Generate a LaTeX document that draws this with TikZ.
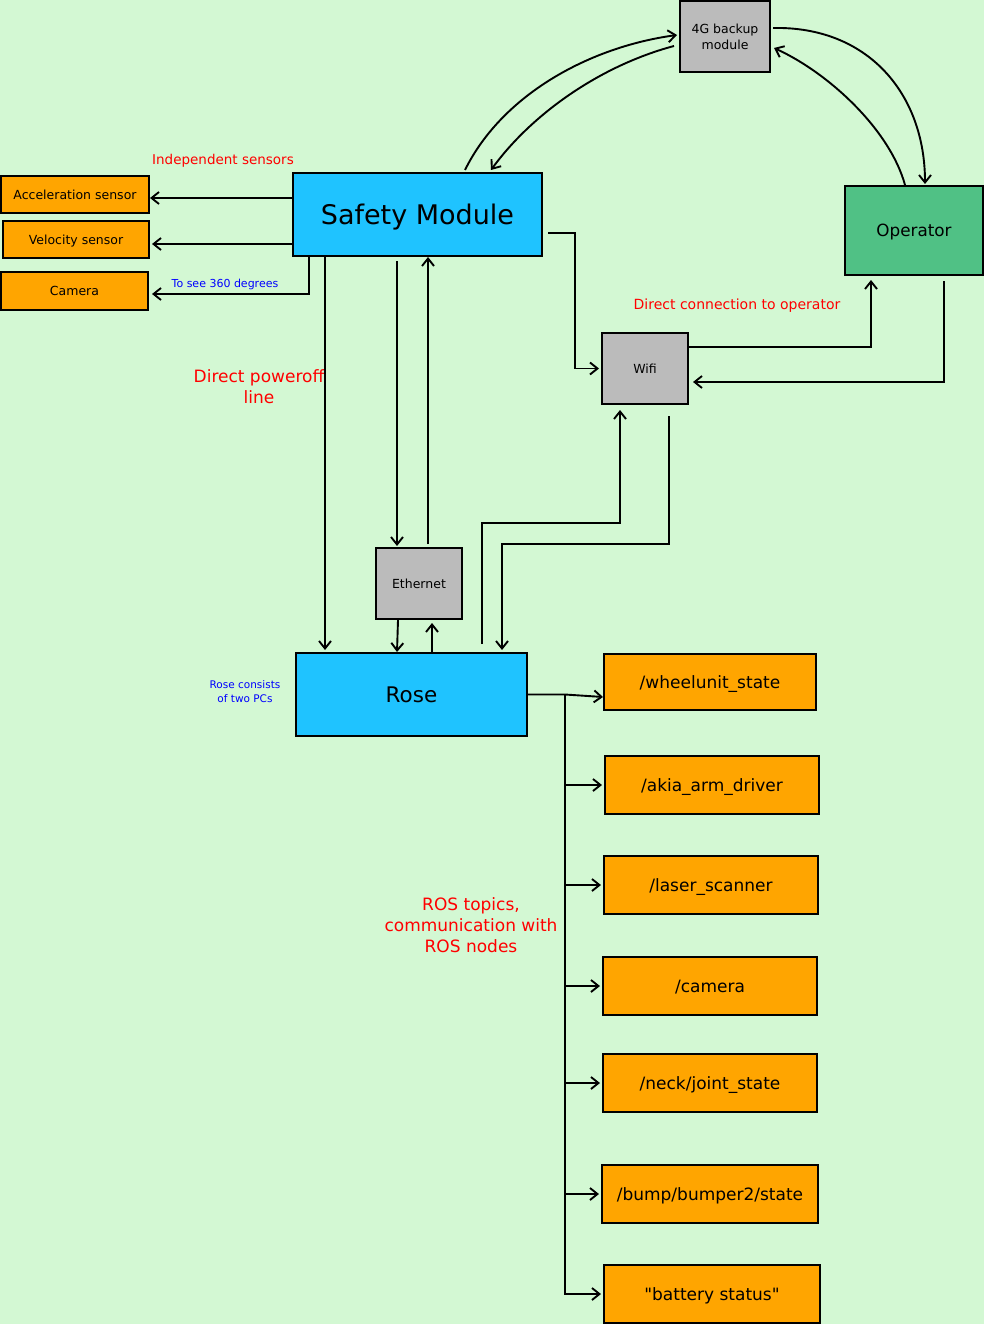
\documentclass[tikz,border=0pt]{standalone}
\usepackage{fontspec}
\setmainfont{DejaVu Sans}[Ligatures=TeXOff]
\usetikzlibrary{arrows.meta}
\definecolor{bggreen}{HTML}{D3F8D3}
\definecolor{skyblue}{HTML}{1FC3FF}
\definecolor{boxorange}{HTML}{FFA500}
\definecolor{boxgray}{HTML}{BBBBBB}
\definecolor{opgreen}{HTML}{50C185}
\begin{document}
\begin{tikzpicture}[x=1pt, y=-1pt, >={Straight Barb[length=7.5pt,width=12pt]},
  box/.style={draw=black, line width=2pt, inner sep=0pt, align=center, text=black, text depth=0pt},
  mainbox/.style={box, fill=skyblue},
  sensor/.style={box, fill=boxorange, minimum height=37pt, font=\fontsize{12.5}{15}\selectfont},
  gear/.style={box, fill=boxgray, minimum width=86pt, minimum height=71pt, font=\fontsize{12.5}{16}\selectfont},
  topic/.style={box, fill=boxorange, minimum height=58pt, font=\fontsize{17}{20}\selectfont},
  rednote/.style={text=red, align=center, text depth=0pt},
  bluenote/.style={text=blue, align=center, text depth=0pt},
  link/.style={->, line width=1.9pt}]
\useasboundingbox (0,0) rectangle (984,1324);
\fill[bggreen] (0,0) rectangle (984,1324);
\node[mainbox, minimum width=249pt, minimum height=83pt, font=\fontsize{27}{32}\selectfont] (safety) at (417.5,214.5) {Safety Module};
\node[mainbox, minimum width=231pt, minimum height=83pt, font=\fontsize{21.5}{26}\selectfont] (rose) at (411.5,694.5) {Rose};
\node[box, fill=opgreen, minimum width=138pt, minimum height=89pt, font=\fontsize{16.8}{20}\selectfont] (op) at (914,230.5) {Operator};
\node[gear, minimum width=90pt] (g4) at (725,36.5) {4G backup\\module};
\node[gear] (wifi) at (645,368.5) {Wifi};
\node[gear] (eth) at (419,583.5) {Ethernet};
\node[sensor, minimum width=148pt] (acc) at (75,194.5) {Acceleration sensor};
\node[sensor, minimum width=146pt] (vel) at (76,239.5) {Velocity sensor};
\node[sensor, minimum width=147pt, minimum height=38pt] (cam) at (74.5,291) {Camera};
\node[topic, minimum width=212pt, minimum height=56pt] (t1) at (710,682) {/wheelunit\_state};
\node[topic, minimum width=214pt] (t2) at (712,785) {/akia\_arm\_driver};
\node[topic, minimum width=214pt] (t3) at (711,885) {/laser\_scanner};
\node[topic, minimum width=214pt] (t4) at (710,986) {/camera};
\node[topic, minimum width=214pt] (t5) at (710,1083) {/neck/joint\_state};
\node[topic, minimum width=216pt] (t6) at (710,1194) {/bump/bumper2/state};
\node[topic, minimum width=216pt] (t7) at (712,1294) {"battery status"};
\node[rednote, font=\fontsize{13.5}{16}\selectfont] (n1) at (223,159) {Independent sensors};
\node[bluenote, font=\fontsize{11}{13}\selectfont] (n2) at (225,283) {To see 360 degrees};
\node[rednote, font=\fontsize{17}{21}\selectfont] (n3) at (259,386.5) {Direct poweroff\\line};
\node[rednote, font=\fontsize{14}{16}\selectfont] (n4) at (737,304) {Direct connection to operator};
\node[rednote, font=\fontsize{17}{21}\selectfont] (n5) at (471,925) {ROS topics,\\communication with\\ROS nodes};
\node[bluenote, font=\fontsize{10.5}{14}\selectfont] (n6) at (245,692) {Rose consists\\of two PCs};
\coordinate (bus) at (565,694.5);
\path [link] ([yshift=16.5pt]safety.west) edge ([yshift=-3.5pt]acc.east);
\path [link] ([yshift=-29.5pt]safety.west) edge ([xshift=2pt,yshift=-4.5pt]vel.east);
\draw [link] ([xshift=-108.5pt]safety.south) |- ([xshift=3pt,yshift=-3pt]cam.east);
\path [link] ([xshift=-92.5pt]safety.south) edge ([xshift=-86.5pt,yshift=2pt]rose.north);
\path [link] ([xshift=-20.5pt,yshift=-4pt]safety.south) edge ([xshift=-22pt,yshift=1pt]eth.north);
\path [link] ([xshift=9pt,yshift=3pt]eth.north) edge ([xshift=10.5pt]safety.south);
\path [link] ([xshift=-21pt]eth.south) edge ([xshift=-14.5pt]rose.north);
\path [link] ([xshift=20.5pt]rose.north) edge ([xshift=13pt,yshift=-3pt]eth.south);
\draw [link] ([xshift=70.5pt,yshift=8pt]rose.north) -- ++(0,-121) -| ([xshift=-25pt,yshift=-5pt]wifi.south);
\draw [link] ([xshift=24pt,yshift=-11pt]wifi.south) -- ++(0,128) -| ([xshift=90.5pt,yshift=2pt]rose.north);
\draw [link] ([xshift=5pt,yshift=-18.5pt]safety.east) -- ++(27,0) |- ([xshift=-2pt]wifi.west);
\draw [link] ([yshift=21.5pt]wifi.east) -| ([xshift=-43pt,yshift=-4pt]op.south);
\draw [link] ([xshift=30pt,yshift=-5pt]op.south) |- ([xshift=4pt,yshift=-13.5pt]wifi.east);
\draw [link] ([xshift=47.5pt,yshift=2pt]safety.north) .. controls +(37,-75) and +(-88,12) .. ([xshift=-2pt,yshift=1.5pt]g4.west);
\draw [link] ([xshift=-5pt,yshift=-9.5pt]g4.west) .. controls +(-75,20) and +(40,-55) .. ([xshift=73.5pt,yshift=2pt]safety.north);
\draw [link] ([xshift=2pt,yshift=8.5pt]g4.east) .. controls +(95,-2) and +(0,-90) .. ([xshift=11pt,yshift=1pt]op.north);
\draw [link] ([xshift=-9pt]op.north) .. controls +(-15,-55) and +(55,25) .. ([xshift=3pt,yshift=-11.5pt]g4.east);
\draw [link] (rose.east) -- (bus) -- ([yshift=-15pt]t1.west);
\foreach \t in {t2,t3,t4,t5,t6,t7}
  \draw [link] (rose.east) -- (bus) |- ([xshift=-2pt]\t.west);
\end{tikzpicture}
\end{document}
